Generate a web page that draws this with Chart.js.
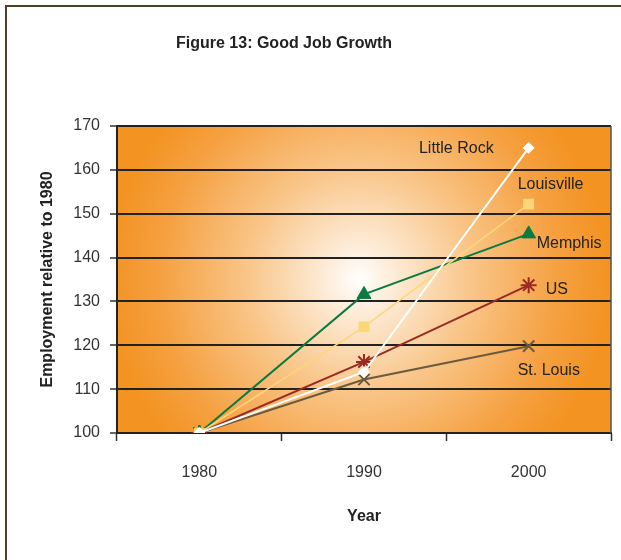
<!DOCTYPE html>
<html>
<head>
<meta charset="utf-8">
<script src="https://cdn.jsdelivr.net/npm/chart.js@4/dist/chart.umd.min.js"></script>
<style>
  body { margin: 0; background: #fff; }
  #wrap { position: relative; width: 621px; height: 560px; }
  #frame {
    position: absolute; left: 5px; top: 5px; right: 0; bottom: 0;
    border-left: 2px solid #4a3f27; border-top: 2px solid #4a3f27;
    pointer-events: none;
  }
  #title {
    position: absolute; left: 176px; top: 33px;
    font: bold 16px "Liberation Sans", Arial, sans-serif;
    line-height: 20px; color: #222;
  }
</style>
</head>
<body>
<div id="wrap">
  <canvas id="chart" width="621" height="560"></canvas>
  <div id="frame"></div>
  <div id="title">Figure 13: Good Job Growth</div>
</div>
<script>
// employment index, 1980 = 100
const years = ['1980', '1990', '2000'];
const seriesNames = ['Little Rock', 'Louisville', 'Memphis', 'US', 'St. Louis'];
const littleRock = [100, 113.9, 165.0];
const louisville = [100, 124.2, 152.2];
const memphis = [100, 131.6, 145.4];
const us = [100, 116.2, 133.7];
const stLouis = [100, 112.2, 119.8];

const FONT = '"Liberation Sans", Arial, sans-serif';

// series label placement next to the 2000 point
const labelOffsets = [
    { dx: -35, dy: 1, align: 'right' },
    { dx: -11, dy: -19, align: 'left' },
    { dx: 8, dy: 10, align: 'left' },
    { dx: 17, dy: 4, align: 'left' },
    { dx: -11, dy: 24, align: 'left' }
];

const glowBackground = {
    id: 'glowBackground',
    beforeDraw(chart) {
        const { ctx, chartArea: a } = chart;
        const cx = a.left + a.width * 0.49;
        const cy = a.top + a.height * 0.5;
        const g = ctx.createRadialGradient(cx, cy, 0, cx, cy, 250);
        g.addColorStop(0, '#ffffff');
        g.addColorStop(0.12, '#fdeedc');
        g.addColorStop(0.45, '#f9c588');
        g.addColorStop(0.8, '#f5a040');
        g.addColorStop(1, '#f39322');
        ctx.save();
        ctx.fillStyle = g;
        ctx.fillRect(a.left, a.top, a.width, a.height);
        ctx.restore();
    },
    beforeDatasetsDraw(chart) {
        const { ctx, chartArea: a } = chart;
        ctx.save();
        ctx.strokeStyle = '#555';
        ctx.lineWidth = 1.5;
        ctx.beginPath();
        ctx.moveTo(a.right, a.top);
        ctx.lineTo(a.right, a.bottom);
        ctx.stroke();
        ctx.restore();
    }
};

const seriesLabels = {
    id: 'seriesLabels',
    afterDatasetsDraw(chart) {
        const { ctx } = chart;
        ctx.save();
        ctx.font = '16px ' + FONT;
        ctx.fillStyle = '#222';
        ctx.textBaseline = 'middle';
        chart.data.datasets.forEach((ds, i) => {
            const pts = chart.getDatasetMeta(i).data;
            const p = pts[pts.length - 1];
            const o = labelOffsets[i];
            ctx.textAlign = o.align;
            ctx.fillText(ds.label, p.x + o.dx, p.y + o.dy);
        });
        ctx.restore();
    }
};

new Chart(document.getElementById('chart'), {
    type: 'line',
    data: {
        labels: years,
        datasets: [
            {
                label: seriesNames[0], data: littleRock,
                borderColor: '#ffffff', backgroundColor: '#ffffff', borderWidth: 2,
                pointStyle: 'rectRot', pointRadius: 5.5, pointBorderWidth: 1
            },
            {
                label: seriesNames[1], data: louisville,
                borderColor: '#fcd77a', backgroundColor: '#fcd77a', borderWidth: 1.5,
                pointStyle: 'rect', pointRadius: 7, pointBorderWidth: 1
            },
            {
                label: seriesNames[2], data: memphis,
                borderColor: '#0a7a40', backgroundColor: '#0a7a40', borderWidth: 2,
                pointStyle: 'triangle', pointRadius: 8, pointBorderWidth: 1
            },
            {
                label: seriesNames[3], data: us,
                borderColor: '#9a2a22', backgroundColor: '#9a2a22', borderWidth: 2,
                pointStyle: 'star', pointRadius: 8, pointBorderWidth: 2
            },
            {
                label: seriesNames[4], data: stLouis,
                borderColor: '#6b5a3e', backgroundColor: '#6b5a3e', borderWidth: 2,
                pointStyle: 'crossRot', pointRadius: 8, pointBorderWidth: 2
            }
        ]
    },
    options: {
        responsive: false,
        animation: false,
        layout: { padding: { left: 0, right: 9, top: 126, bottom: 0 } },
        plugins: {
            legend: { display: false },
            tooltip: { enabled: false }
        },
        scales: {
            x: {
                offset: true,
                afterFit: scale => { scale.height = 127; },
                grid: {
                    offset: true, drawOnChartArea: false,
                    tickLength: 8, tickColor: '#333', tickWidth: 1.5
                },
                border: { color: '#222', width: 2 },
                ticks: { color: '#333', padding: 22, font: { family: FONT, size: 16 } },
                title: {
                    display: true, text: 'Year', color: '#222',
                    padding: { top: 0, bottom: 34 },
                    font: { family: FONT, size: 16, weight: 'bold' }
                }
            },
            y: {
                min: 100, max: 170,
                afterFit: scale => { scale.width = 117; },
                grid: { color: '#222', lineWidth: 2, tickLength: 7, tickColor: '#333', tickWidth: 1.5 },
                border: { color: '#222', width: 2 },
                ticks: { stepSize: 10, color: '#333', padding: 10, font: { family: FONT, size: 16 } },
                title: {
                    display: true, text: 'Employment relative to 1980', color: '#222',
                    padding: { top: 38, bottom: 0 },
                    font: { family: FONT, size: 16, weight: 'bold' }
                }
            }
        }
    },
    plugins: [glowBackground, seriesLabels]
});
</script>
</body>
</html>
